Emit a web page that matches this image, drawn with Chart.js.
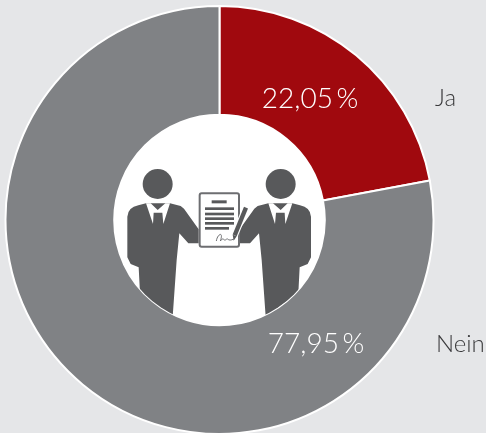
<!DOCTYPE html>
<html><head><meta charset="utf-8">
<style>html,body{margin:0;padding:0;background:#e5e6e8;overflow:hidden;width:486px;height:433px}
#w{position:relative;width:486px;height:435px}</style>
<script src="https://cdn.jsdelivr.net/npm/chart.js@4"></script></head>
<body><div id="w"><canvas id="c"></canvas></div>
<script>
const categories = ['Ja', 'Nein'];
const values = [22.05, 77.95];
const valueLabels = ['22,05\u2009%', '77,95\u2009%'];
const colors = ['#a0090e', '#808285'];
const DARK = '#58595b';

function poly(ctx, pts, fill) {
  ctx.beginPath();
  pts.forEach((p, i) => i ? ctx.lineTo(p[0], p[1]) : ctx.moveTo(p[0], p[1]));
  ctx.closePath();
  ctx.fillStyle = fill;
  ctx.fill();
}
function person(ctx, mirror) {
  ctx.save();
  if (mirror) { ctx.translate(655, 0); ctx.scale(-1, 1); }
  ctx.beginPath(); ctx.arc(143, 72, 45, 0, Math.PI * 2); ctx.fillStyle = DARK; ctx.fill();
  ctx.beginPath();
  ctx.moveTo(52, 170);
  ctx.quadraticCurveTo(54, 142, 85, 136);
  ctx.lineTo(108, 130); ctx.lineTo(180, 130); ctx.lineTo(212, 138);
  ctx.lineTo(222, 146); ctx.lineTo(266, 208); ctx.lineTo(266, 250);
  ctx.lineTo(235, 250); ctx.lineTo(208, 220); ctx.lineTo(200, 300);
  ctx.lineTo(188, 470); ctx.lineTo(90, 400); ctx.lineTo(86, 322);
  ctx.lineTo(62, 312); ctx.lineTo(52, 292);
  ctx.closePath(); ctx.fillStyle = DARK; ctx.fill();
  poly(ctx, [[108, 130], [122, 130], [143, 150], [166, 130], [180, 130], [160, 192], [157, 158], [131, 158], [129, 192]], '#fff');
  ctx.restore();
}
const decor = {
  id: 'decor',
  beforeDatasetsDraw(chart) {
    const a = chart.getDatasetMeta(0).data[0], ctx = chart.ctx;
    ctx.save(); ctx.beginPath(); ctx.arc(a.x, a.y, a.innerRadius, 0, Math.PI * 2);
    ctx.fillStyle = '#fff'; ctx.fill(); ctx.restore();
  },
  afterDraw(chart) {
    const a = chart.getDatasetMeta(0).data[0], ctx = chart.ctx;
    ctx.save();
    ctx.beginPath(); ctx.arc(a.x, a.y, a.innerRadius, 0, Math.PI * 2); ctx.clip();
    ctx.translate(110, 160); ctx.scale(1 / 3, 1 / 3);
    person(ctx, false); person(ctx, true);
    ctx.beginPath(); ctx.roundRect(269, 100, 118, 160, 6);
    ctx.fillStyle = '#fff'; ctx.fill();
    ctx.lineWidth = 6; ctx.strokeStyle = '#6d6e71'; ctx.stroke();
    ctx.fillStyle = DARK;
    ctx.fillRect(305, 121, 45, 9);
    [142, 158, 172, 186].forEach(y => ctx.fillRect(285, y, 87, 8));
    ctx.fillRect(285, 201, 72, 8);
    ctx.beginPath(); ctx.moveTo(374, 226);
    ctx.lineTo(408, 143); ctx.strokeStyle = '#fff'; ctx.lineWidth = 20; ctx.stroke();
    ctx.strokeStyle = DARK; ctx.lineWidth = 13; ctx.stroke();
    poly(ctx, [[368, 224], [380, 229], [371, 242]], DARK);
    ctx.beginPath(); ctx.moveTo(319, 243);
    ctx.bezierCurveTo(322, 222, 342, 212, 331, 243);
    ctx.bezierCurveTo(342, 228, 340, 246, 349, 238);
    ctx.bezierCurveTo(354, 232, 352, 246, 372, 237);
    ctx.strokeStyle = '#6d6e71'; ctx.lineWidth = 3; ctx.stroke();
    ctx.restore();

    ctx.save();
    ctx.textBaseline = 'alphabetic'; ctx.textAlign = 'center';
    ctx.font = '300 28px Lato';
    ctx.fillStyle = '#fff';
    ctx.fillText(valueLabels[0], 310, 108);
    ctx.fillText(valueLabels[1], 316, 353);
    ctx.font = '300 24px Lato';
    ctx.fillStyle = '#3a3a3c';
    ctx.textAlign = 'left';
    ctx.fillText(categories[0], 435, 106);
    ctx.fillText(categories[1], 436, 352);
    ctx.restore();
  }
};
new Chart(document.getElementById('c'), {
  type: 'doughnut',
  data: { labels: categories, datasets: [{ data: values, backgroundColor: colors, borderColor: '#fff', borderWidth: 2 }] },
  options: {
    responsive: true, maintainAspectRatio: false, animation: false, cutout: '49.2%',
    layout: { padding: { left: 0, right: 47, top: 5, bottom: 0 } },
    plugins: { legend: { display: false }, tooltip: { enabled: false } }
  },
  plugins: [decor]
});
</script></body></html>
